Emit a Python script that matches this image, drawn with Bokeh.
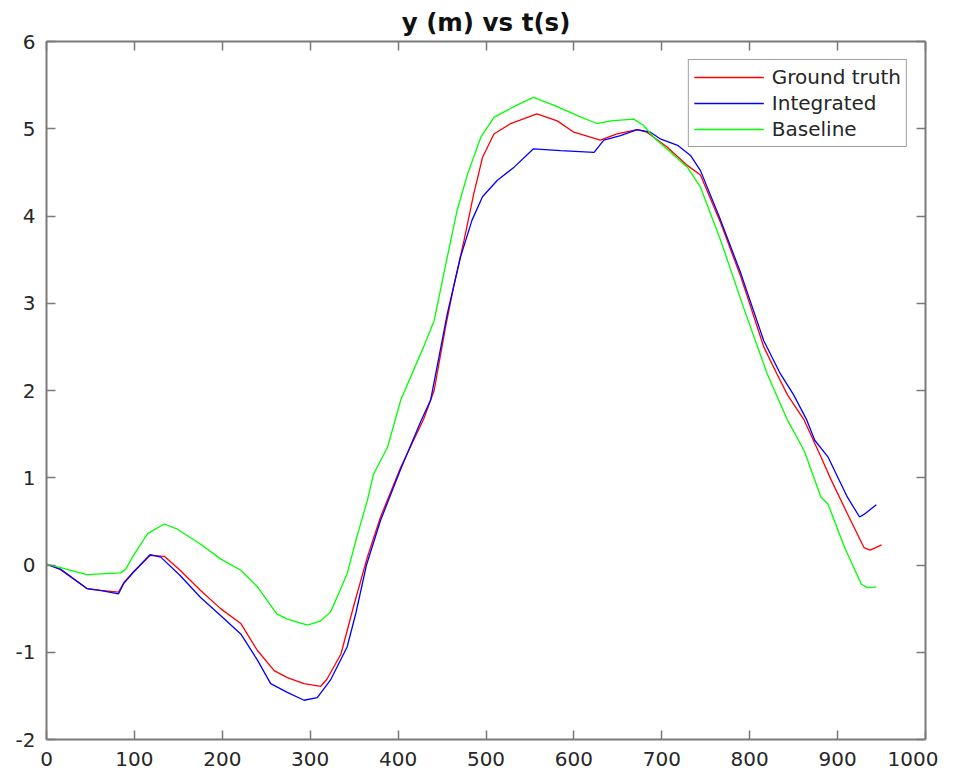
from bokeh.plotting import figure
from bokeh.models import FixedTicker, LinearAxis, Range1d
from bokeh.embed import file_html
from bokeh.resources import INLINE

# ---- data ----
x_ticks = [0, 100, 200, 300, 400, 500, 600, 700, 800, 900, 1000]
y_ticks = [-2, -1, 0, 1, 2, 3, 4, 5, 6]
y_tick_labels = ["-2", "-1", "0", "1", "2", "3", "4", "5", "6"]

t_gt = [0, 16, 46, 61, 82, 88, 99, 118, 134, 152, 175, 198, 221, 240, 259, 274, 293, 312, 319,
        335, 350, 365, 380, 403, 429, 441, 454, 463, 475, 486, 496, 509, 528, 558, 581, 600, 630,
        649, 672, 683, 706, 729, 744, 767, 790, 816, 831, 843, 862, 881, 892, 911, 930, 937, 950]
y_gt = [0.01, -0.05, -0.27, -0.29, -0.31, -0.20, -0.08, 0.11, 0.10, -0.06, -0.29, -0.50, -0.67,
        -0.98, -1.21, -1.29, -1.36, -1.39, -1.31, -1.02, -0.45, 0.09, 0.55, 1.12, 1.67, 2.00,
        2.73, 3.18, 3.72, 4.25, 4.67, 4.94, 5.06, 5.17, 5.09, 4.96, 4.87, 4.94, 4.99, 4.96, 4.79,
        4.58, 4.47, 3.92, 3.30, 2.50, 2.19, 1.95, 1.66, 1.24, 0.99, 0.59, 0.20, 0.17, 0.23]

t_in = [0, 16, 46, 61, 82, 88, 99, 118, 130, 152, 175, 198, 221, 240, 255, 274, 293, 308, 323,
        342, 352, 364, 380, 403, 426, 437, 456, 471, 484, 496, 513, 532, 554, 585, 623, 634, 653,
        672, 687, 699, 718, 733, 744, 767, 790, 816, 835, 850, 865, 874, 889, 911, 925, 930, 944]
y_in = [0.01, -0.05, -0.27, -0.29, -0.33, -0.21, -0.08, 0.12, 0.09, -0.12, -0.37, -0.58, -0.79,
        -1.09, -1.36, -1.46, -1.55, -1.52, -1.32, -0.94, -0.55, 0.00, 0.51, 1.10, 1.65, 1.89,
        2.88, 3.53, 3.95, 4.22, 4.41, 4.56, 4.77, 4.75, 4.73, 4.87, 4.92, 4.99, 4.96, 4.88, 4.81,
        4.69, 4.52, 3.95, 3.34, 2.57, 2.19, 1.95, 1.66, 1.43, 1.24, 0.78, 0.55, 0.58, 0.69]

t_bl = [0, 16, 46, 84, 90, 99, 115, 134, 149, 175, 198, 221, 240, 262, 274, 297, 312, 323, 334,
        342, 353, 365, 372, 388, 403, 429, 441, 452, 467, 479, 494, 509, 535, 554, 577, 604, 626,
        642, 668, 679, 691, 710, 729, 744, 767, 793, 820, 843, 862, 881, 889, 908, 927, 934, 944]
y_bl = [0.01, -0.03, -0.11, -0.09, -0.05, 0.11, 0.36, 0.47, 0.41, 0.24, 0.07, -0.06, -0.25,
        -0.56, -0.62, -0.69, -0.64, -0.54, -0.29, -0.10, 0.32, 0.74, 1.04, 1.35, 1.89, 2.50,
        2.80, 3.34, 4.06, 4.48, 4.90, 5.13, 5.27, 5.36, 5.27, 5.15, 5.06, 5.09, 5.11, 5.04, 4.90,
        4.73, 4.56, 4.33, 3.72, 2.95, 2.19, 1.66, 1.31, 0.78, 0.70, 0.20, -0.22, -0.26, -0.25]

FONT = "DejaVu Sans"
AXIS_COLOR = "#7a7a7a"
TEXT_COLOR = "#262626"

p = figure(width=938, height=776, output_backend="svg", toolbar_location=None,
           x_range=Range1d(0, 1000), y_range=Range1d(-2, 6),
           min_border_left=46, min_border_right=13, min_border_top=41, min_border_bottom=37,
           x_axis_type=None, y_axis_type=None)
p.background_fill_color = "white"
p.border_fill_color = "white"
p.outline_line_color = None
p.grid.visible = False

p.title.text = "y (m) vs t(s)"
p.title.align = "center"
p.title.text_font = FONT
p.title.text_font_style = "bold"
p.title.text_font_size = "24.5px"
p.title.text_color = "#111111"
p.title.standoff = 9


def style_axis(ax, ticks, labels=True, standoff=12):
    ax.ticker = FixedTicker(ticks=ticks)
    ax.major_tick_in = 9
    ax.major_tick_out = 0
    ax.minor_tick_line_color = None
    ax.axis_line_color = AXIS_COLOR
    ax.axis_line_width = 2
    ax.major_tick_line_color = AXIS_COLOR
    ax.major_tick_line_width = 1.5
    ax.major_label_text_font = FONT
    if labels:
        ax.major_label_text_font_size = "20px"
        ax.major_label_text_color = TEXT_COLOR
        ax.major_label_standoff = standoff
    else:
        ax.major_label_text_font_size = "1px"
        ax.major_label_text_color = None
        ax.major_label_standoff = 0


xb = LinearAxis()
style_axis(xb, x_ticks, True, 12)
p.add_layout(xb, "below")
yl = LinearAxis()
style_axis(yl, y_ticks, True, 11)
yl.major_label_overrides = {t: s for t, s in zip(y_ticks, y_tick_labels)}
p.add_layout(yl, "left")
xa = LinearAxis()
style_axis(xa, x_ticks, False)
p.add_layout(xa, "above")
yr = LinearAxis()
style_axis(yr, y_ticks, False)
p.add_layout(yr, "right")

p.line(t_gt, y_gt, color="#ff0000", line_width=1.3, legend_label="Ground truth")
p.line(t_in, y_in, color="#0000ff", line_width=1.3, legend_label="Integrated")
p.line(t_bl, y_bl, color="#00ff00", line_width=1.3, legend_label="Baseline")

lg = p.legend[0]
lg.location = "top_right"
lg.margin = 18
lg.padding = 5
lg.spacing = 2
lg.glyph_width = 70
lg.glyph_height = 22
lg.label_height = 22
lg.label_standoff = 8
lg.label_text_font = FONT
lg.label_text_font_size = "20px"
lg.label_text_color = TEXT_COLOR
lg.border_line_color = "#404040"
lg.border_line_width = 1.5
lg.background_fill_color = "white"
lg.background_fill_alpha = 1.0

open("out.html", "w").write(file_html(p, INLINE))
